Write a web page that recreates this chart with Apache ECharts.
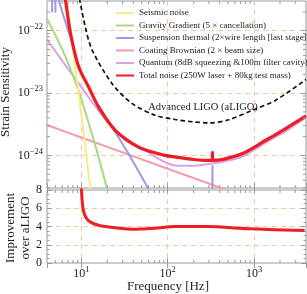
<!DOCTYPE html>
<html><head><meta charset="utf-8">
<script src="https://cdn.jsdelivr.net/npm/echarts@6/dist/echarts.min.js"></script>
<style>html,body{margin:0;padding:0;background:#fff}#c{width:307px;height:294px}</style>
</head><body><div id="c"></div>
<script>
// ---------- data ----------
const seismicF = [6.5, 7, 8.53, 9.31, 10, 11.12, 12.7, 14];
const seismicH = [6e-22, 2.2e-22, 2.35e-23, 1e-23, 4.4e-24, 1.4e-24, 2.94e-25, 1e-25];

const gravityF = [4, 6.19, 9.31, 14.5, 19.8, 25];
const gravityH = [1.55e-22, 4.58e-23, 1.08e-23, 1.45e-24, 2.94e-25, 8e-26];

const suspF = [4, 4.58, 4.59, 4.6, 5.0, 5.01, 5.02, 5.47, 7.81, 9.31, 14.5, 22.6, 35.2, 59.8, 100, 329, 330, 331, 400];
const suspH = [3e-21, 1.5e-21, 2.0e-22, 1.5e-21, 8e-22, 2.0e-22, 8e-22, 3.16e-22, 6.4e-23, 2.65e-23, 7.7e-24, 2.86e-24, 1.06e-24, 2.9e-25, 8e-26, 3e-27, 6.9e-25, 3e-27, 2e-27];

const coatF = [4, 10, 100, 1000, 4000];
const coatH = [3.07e-24, 1.94e-24, 6.1e-25, 1.94e-25, 9.7e-26];

const quantF = [4, 9.31, 22.6, 54.8, 121.6, 200, 300, 450, 736, 1368, 2500, 4000];
const quantH = [7.2e-23, 1.43e-23, 2.86e-24, 1.2e-24, 6.9e-25, 6.8e-25, 7.3e-25, 8.0e-25, 9.6e-25, 1.6e-24, 2.6e-24, 4.05e-24];

const totalF = [6.0, 6.53, 7.47, 9.3, 12.1, 15.8, 24.7, 45.9, 93, 125, 200, 302, 329, 330, 331, 450, 736, 1368, 2328, 4000];
const totalH = [6e-22, 3.16e-22, 9.2e-23, 2.65e-23, 1.26e-23, 6.0e-24, 2.53e-24, 1.36e-24, 1e-24, 9.4e-25, 8.6e-25, 8.3e-25, 8.3e-25, 1.12e-24, 8.3e-25, 8.7e-25, 1.07e-24, 1.75e-24, 2.7e-24, 4.3e-24];

const aligoF = [9.5, 11.1, 13.3, 22.6, 38.5, 71.5, 121.6, 200, 300, 500, 961, 1786, 4000];
const aligoH = [3.3e-22, 1.15e-22, 4.94e-23, 1.43e-23, 6.82e-24, 4.41e-24, 3.77e-24, 3.45e-24, 3.32e-24, 3.7e-24, 5.32e-24, 7.7e-24, 1.65e-23];

const ratioF = [9.9, 10, 10.35, 10.92, 12.14, 14.5, 18.9, 38.5, 71.5, 121.6, 270, 935, 3850];
const ratioV = [9.5, 8.2, 6.26, 5.27, 4.62, 4.25, 3.99, 3.70, 3.81, 3.99, 3.99, 3.74, 3.55];

const legendNames = [
  'Seismic noise',
  'Gravity Gradient (5 \u00d7 cancellation)',
  'Suspension thermal (2\u00d7wire length [last stage])',
  'Coating Brownian (2 \u00d7 beam size)',
  'Quantum (8dB squeezing &100m filter cavity)',
  'Total noise (250W laser + 80kg test mass)'
];
const aligoLabel = 'Advanced LIGO (aLIGO)';
const xTitle = 'Frequency [Hz]';
const yTitleTop = 'Strain Sensitivity';
const yTitleBottom = 'Improvement\nover aLIGO';

// ---------- styling ----------
const FONT = "'Liberation Serif', 'DejaVu Serif', serif";
const GRID_C = '#f7c6a4';
const FRAME_C = '#9a9a9a';
const TXT_C = '#222';

const zip = (a, b) => a.map((v, i) => [v, b[i]]);

function powLabel(v) {
  const e = Math.log10(v);
  const r = Math.round(e);
  if (Math.abs(e - r) > 1e-6) return '';
  return '{b|10}{s|' + (r < 0 ? '\u2212' + (-r) : r) + '}';
}
const rich = {
  b: { fontFamily: FONT, fontSize: 12, color: TXT_C, lineHeight: 17, verticalAlign: 'middle' },
  s: { fontFamily: FONT, fontSize: 8.5, color: TXT_C, lineHeight: 9, verticalAlign: 'top' }
};
const splitStyle = { show: true, showMinLine: false, showMaxLine: false, lineStyle: { color: GRID_C, type: [5, 4], width: 1 } };
const tickStyle = { show: true, inside: true, length: 5, lineStyle: { color: FRAME_C } };

function logX(gridIndex, position, showLabel, split) {
  return {
    type: 'log', logBase: 10, min: 4, max: 4000, gridIndex, position,
    axisLine: { show: false }, axisTick: tickStyle,
    axisLabel: showLabel ? { show: true, formatter: powLabel, rich, margin: 2, showMinLabel: false, showMaxLabel: false } : { show: false },
    splitLine: split ? splitStyle : { show: false }
  };
}
function logY(position, showLabel, split) {
  return {
    type: 'log', logBase: 10, min: 3e-25, max: 3e-22, gridIndex: 0, position,
    axisLine: { show: false }, axisTick: tickStyle,
    axisLabel: showLabel ? { show: true, formatter: powLabel, rich, margin: 4, showMinLabel: false, showMaxLabel: false } : { show: false },
    splitLine: split ? splitStyle : { show: false }
  };
}
function linY(position, showLabel, split) {
  return {
    type: 'value', min: 0, max: 8, interval: 2, gridIndex: 1, position,
    axisLine: { show: false }, axisTick: tickStyle,
    minorTick: { show: true, splitNumber: 4, length: 2.5, lineStyle: { color: FRAME_C } },
    axisLabel: showLabel ? { show: true, fontFamily: FONT, fontSize: 12, color: TXT_C, margin: 5 } : { show: false },
    splitLine: split ? splitStyle : { show: false }
  };
}

// minor ticks for log axes (positions come from the axis scale via api.coord)
const xMinor = [];
[1, 10, 100, 1000].forEach(d => { for (let k = 2; k <= 9; k++) { const v = k * d; if (v > 4 && v < 4000) xMinor.push(v); } });
const yMinor = [];
[1e-25, 1e-24, 1e-23, 1e-22].forEach(d => { for (let k = 2; k <= 9; k++) { const v = k * d; if (v > 3e-25 && v < 3e-22) yMinor.push(v); } });

function minorX(xi, yi, yRef) {
  return {
    type: 'custom', xAxisIndex: xi, yAxisIndex: yi, silent: true, z: 5,
    data: xMinor.map(v => [v, yRef]),
    renderItem: (params, api) => {
      const cs = params.coordSys;
      const x = api.coord([api.value(0), yRef])[0];
      const b = cs.y + cs.height;
      return { type: 'group', children: [
        { type: 'line', shape: { x1: x, y1: b, x2: x, y2: b - 3 }, style: { stroke: FRAME_C, lineWidth: 1 } },
        { type: 'line', shape: { x1: x, y1: cs.y, x2: x, y2: cs.y + 3 }, style: { stroke: FRAME_C, lineWidth: 1 } }
      ]};
    }
  };
}
function minorY() {
  return {
    type: 'custom', xAxisIndex: 0, yAxisIndex: 0, silent: true, z: 5,
    data: yMinor.map(v => [10, v]),
    renderItem: (params, api) => {
      const cs = params.coordSys;
      const y = api.coord([10, api.value(1)])[1];
      const r = cs.x + cs.width;
      return { type: 'group', children: [
        { type: 'line', shape: { x1: cs.x, y1: y, x2: cs.x + 3, y2: y }, style: { stroke: FRAME_C, lineWidth: 1 } },
        { type: 'line', shape: { x1: r, y1: y, x2: r - 3, y2: y }, style: { stroke: FRAME_C, lineWidth: 1 } }
      ]};
    }
  };
}

function line(name, F, H, color, width, extra) {
  return Object.assign({
    name, type: 'line', xAxisIndex: 0, yAxisIndex: 0, data: zip(F, H),
    symbol: 'none', showSymbol: false, clip: true, smooth: 0.3, silent: true,
    lineStyle: { color, width }, itemStyle: { color }
  }, extra || {});
}

const chart = echarts.init(document.getElementById('c'), null, { renderer: 'canvas' });
chart.setOption({
  animation: false,
  backgroundColor: '#fff',
  grid: [
    { left: 47, top: 1, width: 259, height: 187, show: true, borderColor: FRAME_C, borderWidth: 1, backgroundColor: 'transparent' },
    { left: 47, top: 190, width: 259, height: 73, show: true, borderColor: FRAME_C, borderWidth: 1, backgroundColor: 'transparent' }
  ],
  xAxis: [logX(0, 'bottom', false, true), logX(0, 'top', false, false), logX(1, 'bottom', true, true), logX(1, 'top', false, false)],
  yAxis: [logY('left', true, true), logY('right', false, false), linY('left', true, true), linY('right', false, false)],
  legend: {
    data: legendNames, orient: 'vertical', left: 110, top: 3,
    itemWidth: 18, itemHeight: 10, itemGap: 2.5, itemStyle: { opacity: 0 },
    textStyle: { fontFamily: FONT, fontSize: 9, color: TXT_C, lineHeight: 10 },
    selectedMode: false
  },
  graphic: [
    { type: 'text', x: 203, y: 107, style: { text: aligoLabel, font: '10.5px ' + FONT, fill: TXT_C, textAlign: 'center', textVerticalAlign: 'middle' } },
    { type: 'text', x: 6, y: 92, rotation: Math.PI / 2, style: { text: yTitleTop, font: '13px ' + FONT, fill: TXT_C, textAlign: 'center', textVerticalAlign: 'middle' } },
    { type: 'text', x: 18, y: 228, rotation: Math.PI / 2, style: { text: yTitleBottom, font: '13px ' + FONT, fill: TXT_C, textAlign: 'center', textVerticalAlign: 'middle', lineHeight: 15 } },
    { type: 'text', x: 168, y: 287, style: { text: xTitle, font: '13px ' + FONT, fill: TXT_C, textAlign: 'center', textVerticalAlign: 'middle' } }
  ],
  series: [
    minorX(0, 0, 1e-23), minorY(), minorX(2, 2, 4),
    line(legendNames[3], coatF, coatH, '#f59aac', 2),
    line(legendNames[4], quantF, quantH, '#d9a4e6', 2),
    line(legendNames[2], suspF, suspH, '#9b9be6', 2),
    line(legendNames[1], gravityF, gravityH, '#a6da7e', 2),
    line(legendNames[0], seismicF, seismicH, '#f3ee86', 2),
    line('aLIGO', aligoF, aligoH, '#111', 1.7, { lineStyle: { color: '#111', width: 1.7, type: [4.5, 3] } }),
    line(legendNames[5], totalF, totalH, '#ee1c24', 3.2),
    line('ratio', ratioF, ratioV, '#ee1c24', 3, { xAxisIndex: 2, yAxisIndex: 2 })
  ]
});
</script></body></html>
